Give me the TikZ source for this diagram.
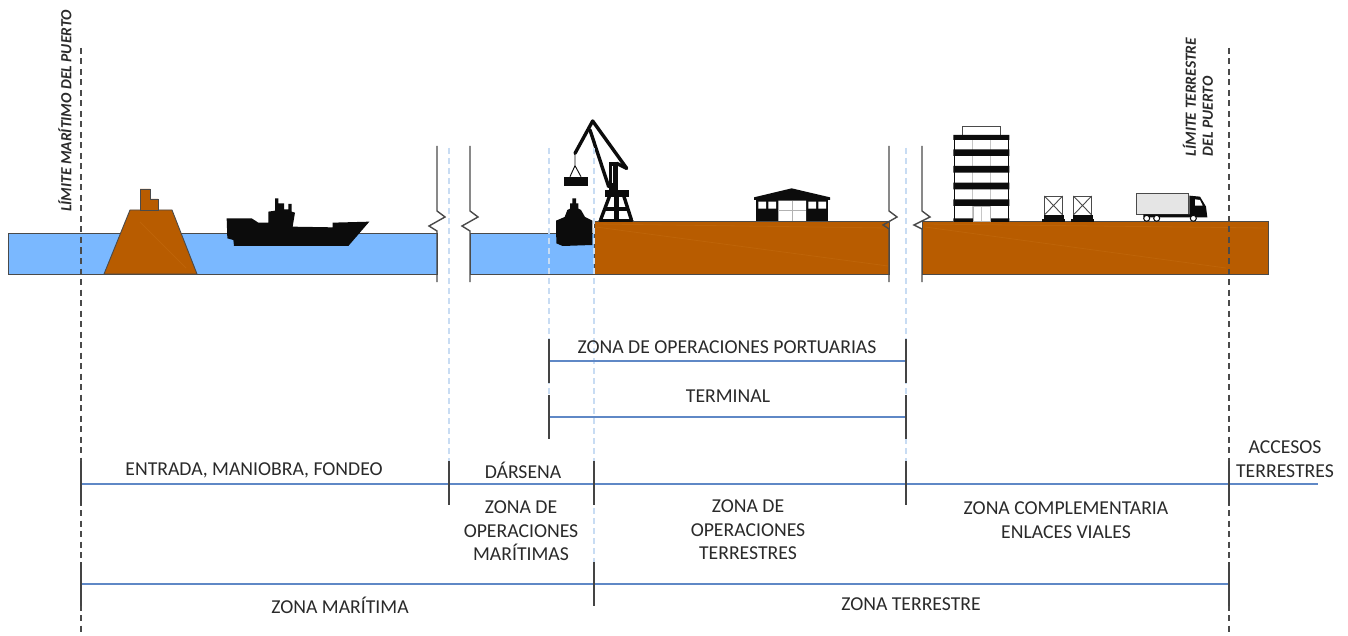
\documentclass[tikz,border=0pt]{standalone}
\usepackage{fontspec}
\setmainfont{Carlito}
\definecolor{water}{HTML}{7AB8FF}
\definecolor{earth}{HTML}{B85C00}
\definecolor{earthlight}{HTML}{BE6408}
\definecolor{edge}{HTML}{4A4A4A}
\definecolor{rule}{HTML}{5F88C6}
\definecolor{tickc}{HTML}{444444}
\definecolor{guide}{HTML}{C8DCF3}
\definecolor{inkc}{HTML}{0C0C0C}
\definecolor{labelc}{HTML}{2A2A2A}
\tikzset{
  waterbody/.style={fill=water,draw=edge,line width=0.9pt},
  earthbody/.style={fill=earth,draw=edge,line width=0.9pt},
  streak/.style={earthlight,line width=0.8pt},
  breakline/.style={draw=edge,line width=1.4pt,line join=miter},
  guideline/.style={guide,line width=1.1pt,dash pattern=on 6pt off 4pt},
  limitline/.style={edge,line width=1.5pt,dash pattern=on 6pt off 4.5pt},
  spanline/.style={rule,line width=1.4pt},
  tickline/.style={tickc,line width=1.4pt},
  zonelabel/.style={font=\fontsize{19.7}{23.5}\selectfont,text=labelc,align=center,inner sep=0pt},
  limitlabel/.style={font=\fontsize{15.5}{17}\selectfont\itshape\bfseries,text=labelc,inner sep=0pt,rotate=90},
  zoomed/.style={x=0.33333pt,y=-0.33333pt},
  ink/.style={fill=inkc,draw=none},
  thinink/.style={draw=inkc,line width=0.9pt},
  armink/.style={draw=inkc,line width=3.4pt,line cap=round,line join=round}
}
\begin{document}
\begin{tikzpicture}[x=1pt,y=-1pt]
\useasboundingbox (0,0) rectangle (1348,636);
\fill[white] (0,0) rectangle (1348,636);

% sea and quay sections
\path[waterbody] (8,233) rectangle (437,274);
\path[waterbody] (470,233) rectangle (594,274);
\path[earthbody] (594,221) rectangle (889,274);
\path[earthbody] (922,221) rectangle (1268,274);
\draw[streak] (596,227) -- (888,266);
\draw[streak] (596,224) -- (888,228);
\draw[streak] (925,227) -- (1226,268);
\draw[streak] (925,224) -- (1266,228);

% breakwater
\path[earthbody] (104,274) -- (130,210) -- (172,210) -- (197,274) -- cycle;
\path[earthbody] (140,210) -- (140,189) -- (150,189) -- (150,199) -- (158,199) -- (158,210) -- cycle;
\draw[streak] (140,222) -- (186,268);

% vessel at anchor
\begin{scope}[shift={(220,190)},zoomed]
\path[ink] (20,85) -- (95,85) -- (115,98) -- (145,98) -- (145,65) -- (165,62) -- (165,25) -- (175,25)
  -- (175,40) -- (192,40) -- (192,58) -- (205,58) -- (205,42) -- (215,42) -- (215,65) -- (225,68)
  -- (218,110) -- (338,112) -- (338,98) -- (448,95) -- (385,168) -- (42,168) -- (40,150) -- (22,145) -- cycle;
\end{scope}

% cut marks in the section
\draw[breakline] (437,146) -- (437,211) -- (445,217) -- (429,226) -- (437,231) -- (437,282);
\draw[breakline] (470,146) -- (470,211) -- (478,217) -- (462,226) -- (470,231) -- (470,282);
\draw[breakline] (889,146) -- (889,211) -- (897,217) -- (883,225) -- (889,229) -- (889,282);
\draw[breakline] (922,146) -- (922,211) -- (930,217) -- (914,225) -- (922,229) -- (922,282);

% vessel at the quay, seen from astern
\begin{scope}[shift={(530,110)},zoomed]
\path[ink] (78,332) -- (104,321) -- (112,300) -- (120,296) -- (120,280) -- (127,280) -- (127,265) -- (138,265) -- (138,280)
  -- (145,280) -- (145,296) -- (153,300) -- (165,321) -- (187,332) -- (187,405) -- (98,408) -- (79,400) -- cycle;
\end{scope}

% quay crane
\begin{scope}[shift={(550,115)},zoomed]
\draw[armink] (75,115) -- (128,18) -- (230,160);
\draw[armink] (120,45) -- (176,215);
\draw[thinink] (75,115) -- (75,152) -- (60,185) (75,152) -- (93,185);
\path[ink] (42,185) rectangle (115,212);
\path[ink] (176,140) rectangle (203,230);
\fill[white] (186,152) rectangle (190,205);
\draw[armink] (200,145) -- (230,160);
\path[ink] (165,225) rectangle (238,245);
\draw[armink] (178,245) -- (152,314);
\draw[armink] (222,245) -- (244,314);
\draw[armink] (170,282) -- (230,282);
\path[ink] (192,245) rectangle (208,316);
\draw[armink] (150,316) -- (246,316);
\end{scope}

% warehouse
\begin{scope}[shift={(530,110)},zoomed]
\path[ink] (672,262) -- (785,235) -- (900,262) -- (900,270) -- (672,270) -- cycle;
\path[ink] (678,270) rectangle (895,333);
\fill[white] (685,275) rectangle (708,296) (715,275) rectangle (738,296)
  (835,275) rectangle (858,296) (865,275) rectangle (888,296) (745,272) rectangle (828,333);
\draw[gray!60,line width=0.7pt] (787,272) -- (787,333) (745,300) -- (828,300);
\end{scope}

% office block
\begin{scope}[shift={(870,110)},zoomed]
\draw[edge,line width=0.7pt,fill=white] (277,75) rectangle (390,48);
\draw[inkc,line width=0.9pt] (252,75) rectangle (416,333);
\draw[gray!45,line width=0.7pt] (308,75) -- (308,333) (362,75) -- (362,333);
\path[ink] (250,75) rectangle (418,90) (250,118) rectangle (418,138) (250,168) rectangle (418,188)
  (250,218) rectangle (418,238) (250,268) rectangle (418,288) (250,325) rectangle (418,333);
\draw[gray!60,line width=0.7pt,fill=white] (310,290) rectangle (360,333);
\draw[gray!45,line width=0.7pt] (335,290) -- (335,333);
\end{scope}

% containers on their chassis
\begin{scope}[shift={(870,110)},zoomed]
\foreach \cx in {523,610}{
  \draw[edge,line width=0.9pt] (\cx,258) rectangle ({\cx+55},315);
  \draw[edge,line width=0.9pt] (\cx,258) -- ({\cx+55},315) ({\cx+55},258) -- (\cx,315);
  \path[ink] ({\cx-2},316) rectangle ({\cx+58},328);
  \path[ink] ({\cx-6},328) rectangle ({\cx+63},336);
}
\end{scope}

% lorry
\begin{scope}[shift={(1030,185)},zoomed]
\draw[edge,line width=1pt,fill=gray!20] (320,25) rectangle (475,88);
\path[ink] (478,32) -- (510,35) -- (528,65) -- (532,97) -- (340,97) -- (340,88) -- (478,88) -- cycle;
\fill[white] (495,43) -- (510,45) -- (518,62) -- (495,62) -- cycle;
\foreach \wx in {350,380,490}{
  \draw[inkc,line width=1pt,fill=white] (\wx,100) circle[radius=9];
}
\end{scope}

% reference points for the zone ticks and spans
\coordinate (limS) at (81,48);  \coordinate (limSb) at (81,634);
\coordinate (limL) at (1229,48); \coordinate (limLb) at (1229,634);
\coordinate (gA) at (449,148);  \coordinate (gAb) at (449,461);
\coordinate (gB) at (549,148);  \coordinate (gBb) at (549,395);
\coordinate (gC) at (594,148);  \coordinate (gCb) at (594,562);
\coordinate (gD) at (906,148);  \coordinate (gDb) at (906,461);
\coordinate (p1) at (549,361);  \coordinate (p2) at (906,361);
\coordinate (t1) at (549,417);  \coordinate (t2) at (906,417);
\coordinate (m1) at (81,484);   \coordinate (m2) at (1318,484);
\coordinate (z1) at (81,584);   \coordinate (z2) at (1229,584);

% faint guides rising from the zone limits
\draw[guideline] (gA) -- (gAb);
\draw[guideline] (gB) -- (gBb);
\draw[guideline] (gC) -- (gCb);
\draw[guideline] (gD) -- (gDb);

% port limits
\draw[limitline] (limS) -- (limSb);
\draw[limitline] (limL) -- (limLb);

% spans
\draw[spanline] (p1) -- (p2);
\draw[spanline] (t1) -- (t2);
\draw[spanline] (m1) -- (m2);
\draw[spanline] (z1) -- (z2);

% end ticks
\foreach \tx in {549,906}{
  \draw[tickline] (\tx,339) -- (\tx,383);
  \draw[tickline] (\tx,395) -- (\tx,439);
}
\foreach \tx in {81,449,594,906,1229}{
  \draw[tickline] (\tx,461) -- (\tx,505);
}
\foreach \tx in {81,594,1229}{
  \draw[tickline] (\tx,562) -- (\tx,606);
}

% texts
\node[limitlabel] (limitS) at (65,111) {LÍMITE MARÍTIMO DEL PUERTO};
\node[limitlabel,align=left] (limitL) at (1198,97) {LÍMITE TERRESTRE\\DEL PUERTO};
\node[zonelabel] (ports) at (727,347) {ZONA DE OPERACIONES PORTUARIAS};
\node[zonelabel] (term) at (728,396) {TERMINAL};
\node[zonelabel] (entr) at (254,470) {ENTRADA, MANIOBRA, FONDEO};
\node[zonelabel] (dars) at (523,470) {DÁRSENA};
\node[zonelabel] (zom) at (521,531) {ZONA DE\\OPERACIONES\\MARÍTIMAS};
\node[zonelabel] (zot) at (748,530) {ZONA DE\\OPERACIONES\\TERRESTRES};
\node[zonelabel] (comp) at (1066,520) {ZONA COMPLEMENTARIA\\ENLACES VIALES};
\node[zonelabel] (acc) at (1285,459) {ACCESOS\\TERRESTRES};
\node[zonelabel] (zmar) at (340,605) {ZONA MARÍTIMA};
\node[zonelabel] (zter) at (911,604) {ZONA TERRESTRE};
\end{tikzpicture}
\end{document}
